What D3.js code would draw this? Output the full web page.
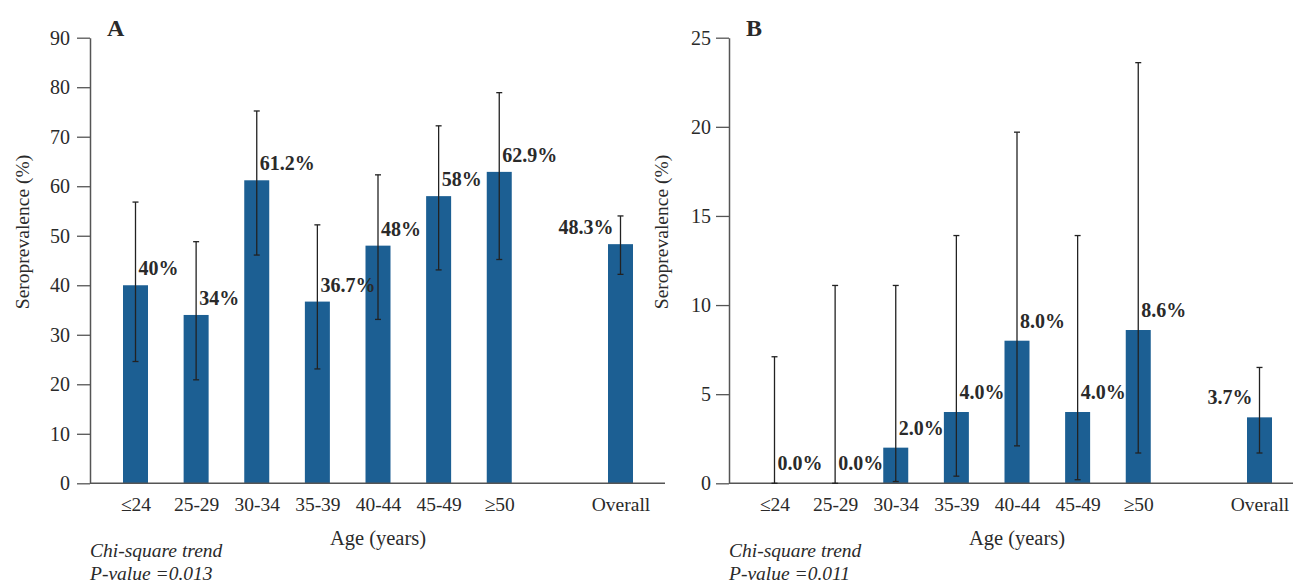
<!DOCTYPE html>
<html>
<head>
<meta charset="utf-8">
<script src="https://cdn.jsdelivr.net/npm/d3@7"></script>
<style>
  body { margin: 0; background: #fff; }
  svg text { font-family: "Liberation Serif", "DejaVu Serif", serif; fill: #2a2a2a; }
</style>
</head>
<body>
<div id="chart"></div>
<script>
// age groups (a blank slot sits between the last group and Overall)
var groups = ["≤24", "25-29", "30-34", "35-39", "40-44", "45-49", "≥50", "Overall"];

// panel A
var prevA = [40, 34, 61.2, 36.7, 48, 58, 62.9, 48.3];
var lowA = [24.6, 20.9, 46.1, 23.1, 33.1, 43.1, 45.2, 42.2];
var highA = [56.8, 48.8, 75.2, 52.2, 62.3, 72.2, 78.9, 54.0];
var labelsA = ["40%", "34%", "61.2%", "36.7%", "48%", "58%", "62.9%", "48.3%"];
var ticksA = [0, 10, 20, 30, 40, 50, 60, 70, 80, 90];

// panel B
var prevB = [0, 0, 2.0, 4.0, 8.0, 4.0, 8.6, 3.7];
var lowB = [0, 0, 0.1, 0.4, 2.1, 0.2, 1.7, 1.7];
var highB = [7.1, 11.1, 11.1, 13.9, 19.7, 13.9, 23.6, 6.5];
var labelsB = ["0.0%", "0.0%", "2.0%", "4.0%", "8.0%", "4.0%", "8.6%", "3.7%"];
var ticksB = [0, 5, 10, 15, 20, 25];

var W = 1293, H = 584;
var svg = d3.select("#chart").append("svg")
  .attr("width", W).attr("height", H);

function drawPanel(p) {
  var g = svg.append("g");
  var slots = groups.slice(0, 7).concat(["gap", "Overall"]);

  var x = d3.scalePoint().domain(slots).range([p.axisX + 45.5, p.axisX + 530.5]);
  var y = d3.scaleLinear().domain([0, p.max]).range([483.3, 37.7]);

  var rows = groups.map(function(c, i) {
    return {cat: c, v: p.prev[i], lo: p.low[i], hi: p.high[i], lab: p.labels[i]};
  });

  // bars
  g.selectAll("rect.bar").data(rows).enter().append("rect")
    .attr("class", "bar")
    .attr("x", function(d) { return x(d.cat) - 12.5; })
    .attr("width", 25)
    .attr("y", function(d) { return y(d.v); })
    .attr("height", function(d) { return y(0) - y(d.v); })
    .attr("fill", "#1c5f93");

  // y axis
  var ya = g.append("g")
    .attr("transform", "translate(" + p.axisX + ",0)")
    .call(d3.axisLeft(y).tickValues(p.ticks).tickSize(13).tickSizeOuter(0).tickPadding(p.tickPad));
  ya.select(".domain").attr("stroke", "#555").attr("stroke-width", 1.5);
  ya.selectAll(".tick line").attr("stroke", "#555").attr("stroke-width", 1.3);
  ya.selectAll(".tick text").style("font-size", "20px").attr("fill", "#2a2a2a");

  // x axis
  var xa = g.append("g")
    .attr("transform", "translate(0," + y(0) + ")")
    .call(d3.axisBottom(x).tickValues(groups).tickSize(0).tickPadding(14));
  xa.select(".domain").remove();
  xa.selectAll(".tick text").style("font-size", "19.5px").attr("fill", "#2a2a2a");
  g.append("line")
    .attr("x1", p.axisX).attr("x2", p.axisEnd)
    .attr("y1", y(0)).attr("y2", y(0))
    .attr("stroke", "#555").attr("stroke-width", 1.5);

  // error bars
  var eb = g.selectAll("g.err").data(rows).enter().append("g").attr("class", "err")
    .attr("stroke", "#222").attr("stroke-width", 1.3);
  eb.append("line")
    .attr("x1", function(d) { return x(d.cat); })
    .attr("x2", function(d) { return x(d.cat); })
    .attr("y1", function(d) { return y(d.hi); })
    .attr("y2", function(d) { return y(d.lo); });
  eb.append("line")
    .attr("x1", function(d) { return x(d.cat) - 3; })
    .attr("x2", function(d) { return x(d.cat) + 3; })
    .attr("y1", function(d) { return y(d.hi); })
    .attr("y2", function(d) { return y(d.hi); });
  eb.append("line")
    .attr("x1", function(d) { return x(d.cat) - 3; })
    .attr("x2", function(d) { return x(d.cat) + 3; })
    .attr("y1", function(d) { return y(d.lo); })
    .attr("y2", function(d) { return y(d.lo); });

  // value labels
  g.selectAll("text.val").data(rows).enter().append("text")
    .attr("class", "val")
    .attr("x", function(d) { return d.cat == "Overall" ? x(d.cat) - 7 : x(d.cat) + 3; })
    .attr("y", function(d) { return y(d.v) - p.labOff; })
    .attr("text-anchor", function(d) { return d.cat == "Overall" ? "end" : "start"; })
    .style("font-size", "20px")
    .style("font-weight", "bold")
    .text(function(d) { return d.lab; });

  // panel letter
  g.append("text")
    .attr("x", p.axisX + 17).attr("y", 36)
    .style("font-size", "24px").style("font-weight", "bold")
    .text(p.letter);

  // axis titles
  g.append("text")
    .attr("transform", "translate(" + (p.axisX - 61) + ",232)rotate(-90)")
    .attr("text-anchor", "middle")
    .style("font-size", "19.5px")
    .text("Seroprevalence (%)");
  g.append("text")
    .attr("x", (x("≤24") + x("Overall")) / 2).attr("y", 545)
    .attr("text-anchor", "middle")
    .style("font-size", "20.5px")
    .text("Age (years)");

  // trend test note
  g.append("text")
    .attr("x", p.axisX).attr("y", 557)
    .style("font-size", "19.5px").style("font-style", "italic")
    .text("Chi-square trend");
  g.append("text")
    .attr("x", p.axisX).attr("y", 580)
    .style("font-size", "19.5px").style("font-style", "italic")
    .text("P-value =" + p.pval);
}

drawPanel({letter: "A", axisX: 90, axisEnd: 665, max: 90, ticks: ticksA, tickPad: 7,
  prev: prevA, low: lowA, high: highA, labels: labelsA, labOff: 10, pval: "0.013"});
drawPanel({letter: "B", axisX: 729, axisEnd: 1293, max: 25, ticks: ticksB, tickPad: 5,
  prev: prevB, low: lowB, high: highB, labels: labelsB, labOff: 13, pval: "0.011"});
</script>
</body>
</html>
